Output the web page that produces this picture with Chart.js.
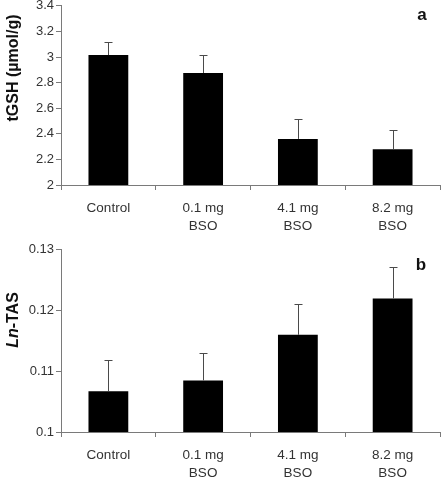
<!DOCTYPE html>
<html>
<head>
<meta charset="utf-8">
<script src="https://cdn.jsdelivr.net/npm/chart.js@4"></script>
<style>
  html, body { margin: 0; padding: 0; background: #fff; }
  body { width: 442px; height: 479px; position: relative; overflow: hidden; }
  .panel { position: absolute; left: 0; width: 442px; overflow: hidden; }
  .panel canvas { position: absolute; left: 0; }
  #panelA { top: 0; height: 240px; }
  #panelB { top: 240px; height: 239px; }
  #chartA { top: -4px; }
  #chartB { top: 0; }
</style>
</head>
<body>
<div class="panel" id="panelA"><canvas id="chartA" width="442" height="244"></canvas></div>
<div class="panel" id="panelB"><canvas id="chartB" width="442" height="239"></canvas></div>
<script>
const categories = [['Control'], ['0.1 mg', 'BSO'], ['4.1 mg', 'BSO'], ['8.2 mg', 'BSO']];

// panel a - tGSH
const tgshMeans = [3.015, 2.875, 2.36, 2.28];
const tgshErrors = [0.105, 0.14, 0.155, 0.15];
const tgshTicks = { min: 2, max: 3.4, step: 0.2 };

// panel b - Ln-TAS
const tasMeans = [0.1067, 0.1085, 0.116, 0.122];
const tasErrors = [0.0051, 0.0045, 0.005, 0.0052];
const tasTicks = { min: 0.1, max: 0.13, step: 0.01 };

const FONT = "'Liberation Sans', Arial, sans-serif";
const axisGrey = '#7a7a7a';

// one-sided (upper) error bars
const errorBars = {
  id: 'errorBars',
  afterDatasetsDraw(chart, args, opts) {
    const ctx = chart.ctx;
    const yScale = chart.scales.y;
    const meta = chart.getDatasetMeta(0);
    const means = chart.data.datasets[0].data;
    ctx.save();
    ctx.strokeStyle = '#4a4a4a';
    ctx.lineWidth = 1;
    meta.data.forEach((bar, i) => {
      const x = Math.round(bar.x) + 0.5;
      const yTop = Math.round(yScale.getPixelForValue(means[i] + opts.errors[i])) + 0.5;
      ctx.beginPath();
      ctx.moveTo(x, bar.y);
      ctx.lineTo(x, yTop);
      ctx.moveTo(x - 4, yTop);
      ctx.lineTo(x + 4, yTop);
      ctx.stroke();
    });
    ctx.restore();
  }
};

// rotated y title (with optional italic part) and panel letter
const labels = {
  id: 'labels',
  afterDraw(chart, args, opts) {
    const ctx = chart.ctx;
    ctx.save();
    ctx.fillStyle = '#111';
    ctx.textBaseline = 'middle';
    // panel letter
    ctx.font = 'bold 17px ' + FONT;
    ctx.textAlign = 'center';
    ctx.fillText(opts.letter, opts.letterX, opts.letterY);
    // axis title
    ctx.translate(opts.titleX, opts.titleY);
    ctx.rotate(-Math.PI / 2);
    const parts = opts.title;
    let total = 0;
    parts.forEach(p => {
      ctx.font = (p.italic ? 'italic ' : '') + 'bold 16px ' + FONT;
      p.w = ctx.measureText(p.text).width;
      total += p.w;
    });
    let x = -total / 2;
    ctx.textAlign = 'left';
    parts.forEach(p => {
      ctx.font = (p.italic ? 'italic ' : '') + 'bold 16px ' + FONT;
      ctx.fillText(p.text, x, 0);
      x += p.w;
    });
    ctx.restore();
  }
};

function makeChart(id, means, errors, ticks, xHeight, padTop, labelOpts) {
  return new Chart(document.getElementById(id), {
    type: 'bar',
    data: {
      labels: categories,
      datasets: [{
        data: means,
        backgroundColor: '#000',
        borderWidth: 0,
        categoryPercentage: 1,
        barPercentage: 0.42
      }]
    },
    options: {
      responsive: false,
      animation: false,
      layout: { padding: { top: padTop, right: 2, left: 0, bottom: 0 } },
      plugins: {
        legend: { display: false },
        tooltip: { enabled: false },
        errorBars: { errors: errors },
        labels: labelOpts
      },
      scales: {
        x: {
          grid: { display: true, drawOnChartArea: false, offset: true, tickLength: 5, color: axisGrey },
          border: { color: axisGrey },
          ticks: {
            color: '#333',
            padding: 9,
            maxRotation: 0,
            autoSkip: false,
            font: { family: FONT, size: 13.5, lineHeight: 18 / 13.5 }
          },
          afterFit(scale) { scale.height = xHeight; }
        },
        y: {
          min: ticks.min,
          max: ticks.max,
          grid: { drawOnChartArea: false, tickLength: 5, color: axisGrey },
          border: { color: axisGrey },
          ticks: {
            stepSize: ticks.step,
            color: '#333',
            padding: 2,
            font: { family: FONT, size: 13 },
            callback: v => String(+v.toFixed(3))
          },
          afterFit(scale) { scale.width = 61; }
        }
      }
    },
    plugins: [errorBars, labels]
  });
}

makeChart('chartA', tgshMeans, tgshErrors, tgshTicks, 55, 0, {
  letter: 'a', letterX: 422, letterY: 19,
  titleX: 14, titleY: 72,
  title: [{ text: 'tGSH (\u00b5mol/g)' }]
});

makeChart('chartB', tasMeans, tasErrors, tasTicks, 47, 2, {
  letter: 'b', letterX: 421, letterY: 25,
  titleX: 14, titleY: 80,
  title: [{ text: 'Ln', italic: true }, { text: '-TAS' }]
});
</script>
</body>
</html>
